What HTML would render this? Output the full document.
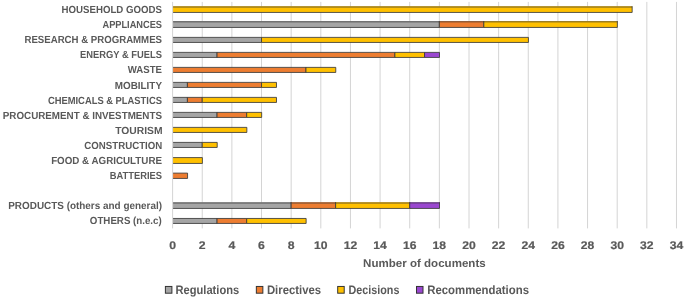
<!DOCTYPE html>
<html><head><meta charset="utf-8"><title>Number of documents</title>
<style>html,body{margin:0;padding:0;background:#fff}svg{display:block}text{font-family:"Liberation Sans",sans-serif;font-weight:bold;text-rendering:geometricPrecision;fill:#595959}</style></head><body>
<svg width="685" height="299" viewBox="0 0 685 299">
<rect width="685" height="299" fill="#fff"/>
<line x1="202.24" y1="1.9" x2="202.24" y2="228.4" stroke="#D4D4D4" stroke-width="1"/>
<line x1="231.88" y1="1.9" x2="231.88" y2="228.4" stroke="#D4D4D4" stroke-width="1"/>
<line x1="261.52" y1="1.9" x2="261.52" y2="228.4" stroke="#D4D4D4" stroke-width="1"/>
<line x1="291.16" y1="1.9" x2="291.16" y2="228.4" stroke="#D4D4D4" stroke-width="1"/>
<line x1="320.80" y1="1.9" x2="320.80" y2="228.4" stroke="#D4D4D4" stroke-width="1"/>
<line x1="350.44" y1="1.9" x2="350.44" y2="228.4" stroke="#D4D4D4" stroke-width="1"/>
<line x1="380.08" y1="1.9" x2="380.08" y2="228.4" stroke="#D4D4D4" stroke-width="1"/>
<line x1="409.72" y1="1.9" x2="409.72" y2="228.4" stroke="#D4D4D4" stroke-width="1"/>
<line x1="439.36" y1="1.9" x2="439.36" y2="228.4" stroke="#D4D4D4" stroke-width="1"/>
<line x1="469.00" y1="1.9" x2="469.00" y2="228.4" stroke="#D4D4D4" stroke-width="1"/>
<line x1="498.64" y1="1.9" x2="498.64" y2="228.4" stroke="#D4D4D4" stroke-width="1"/>
<line x1="528.28" y1="1.9" x2="528.28" y2="228.4" stroke="#D4D4D4" stroke-width="1"/>
<line x1="557.92" y1="1.9" x2="557.92" y2="228.4" stroke="#D4D4D4" stroke-width="1"/>
<line x1="587.56" y1="1.9" x2="587.56" y2="228.4" stroke="#D4D4D4" stroke-width="1"/>
<line x1="617.20" y1="1.9" x2="617.20" y2="228.4" stroke="#D4D4D4" stroke-width="1"/>
<line x1="646.84" y1="1.9" x2="646.84" y2="228.4" stroke="#D4D4D4" stroke-width="1"/>
<line x1="676.48" y1="1.9" x2="676.48" y2="228.4" stroke="#D4D4D4" stroke-width="1"/>
<rect x="172.90" y="6.20" width="459.27" height="6.17" fill="#FFC000"/>
<line x1="172.90" y1="6.90" x2="632.17" y2="6.90" stroke="#3a3a3a" stroke-opacity="0.5" stroke-width="1.5"/>
<path d="M632.17 6.20V12.45H172.90" fill="none" stroke="#3a3a3a" stroke-width="0.85"/>
<text x="61.60" y="13.15" font-size="10.3" textLength="100.40" lengthAdjust="spacingAndGlyphs">HOUSEHOLD GOODS</text>
<rect x="172.90" y="21.05" width="266.46" height="6.45" fill="#A5A5A5"/>
<line x1="172.90" y1="21.75" x2="439.36" y2="21.75" stroke="#3a3a3a" stroke-opacity="0.5" stroke-width="1.5"/>
<path d="M439.36 21.05V27.45H172.90" fill="none" stroke="#3a3a3a" stroke-width="0.85"/>
<rect x="439.36" y="21.05" width="44.46" height="6.45" fill="#ED7D31"/>
<line x1="439.36" y1="21.75" x2="483.82" y2="21.75" stroke="#3a3a3a" stroke-opacity="0.5" stroke-width="1.5"/>
<path d="M483.82 21.05V27.45H439.36V21.05" fill="none" stroke="#3a3a3a" stroke-width="0.85"/>
<rect x="483.82" y="21.05" width="133.53" height="6.45" fill="#FFC000"/>
<line x1="483.82" y1="21.75" x2="617.35" y2="21.75" stroke="#3a3a3a" stroke-opacity="0.5" stroke-width="1.5"/>
<path d="M617.35 21.05V27.45H483.82V21.05" fill="none" stroke="#3a3a3a" stroke-width="0.85"/>
<text x="102.50" y="28.23" font-size="10.3" textLength="59.49" lengthAdjust="spacingAndGlyphs">APPLIANCES</text>
<path d="M172.90 37.38H261.52V42.45H172.90" fill="#A5A5A5" stroke="#3a3a3a" stroke-width="0.85"/>
<path d="M261.52 37.38H528.43V42.45H261.52Z" fill="#FFC000" stroke="#3a3a3a" stroke-width="0.85"/>
<text x="24.45" y="43.31" font-size="10.3" textLength="137.55" lengthAdjust="spacingAndGlyphs">RESEARCH &amp; PROGRAMMES</text>
<path d="M172.90 52.39H217.06V57.45H172.90" fill="#A5A5A5" stroke="#3a3a3a" stroke-width="0.85"/>
<path d="M217.06 52.39H394.90V57.45H217.06Z" fill="#ED7D31" stroke="#3a3a3a" stroke-width="0.85"/>
<path d="M394.90 52.39H424.54V57.45H394.90Z" fill="#FFC000" stroke="#3a3a3a" stroke-width="0.85"/>
<path d="M424.54 52.39H439.51V57.45H424.54Z" fill="#9A47D0" stroke="#3a3a3a" stroke-width="0.85"/>
<text x="80.10" y="58.39" font-size="10.3" textLength="81.89" lengthAdjust="spacingAndGlyphs">ENERGY &amp; FUELS</text>
<path d="M172.90 67.38H305.98V72.45H172.90" fill="#ED7D31" stroke="#3a3a3a" stroke-width="0.85"/>
<path d="M305.98 67.38H335.77V72.45H305.98Z" fill="#FFC000" stroke="#3a3a3a" stroke-width="0.85"/>
<text x="127.75" y="73.47" font-size="10.3" textLength="34.24" lengthAdjust="spacingAndGlyphs">WASTE</text>
<path d="M172.90 82.39H187.42V87.45H172.90" fill="#A5A5A5" stroke="#3a3a3a" stroke-width="0.85"/>
<path d="M187.42 82.39H261.52V87.45H187.42Z" fill="#ED7D31" stroke="#3a3a3a" stroke-width="0.85"/>
<path d="M261.52 82.39H276.49V87.45H261.52Z" fill="#FFC000" stroke="#3a3a3a" stroke-width="0.85"/>
<text x="114.76" y="88.55" font-size="10.3" textLength="47.24" lengthAdjust="spacingAndGlyphs">MOBILITY</text>
<path d="M172.90 97.38H187.42V102.45H172.90" fill="#A5A5A5" stroke="#3a3a3a" stroke-width="0.85"/>
<path d="M187.42 97.38H202.24V102.45H187.42Z" fill="#ED7D31" stroke="#3a3a3a" stroke-width="0.85"/>
<path d="M202.24 97.38H276.49V102.45H202.24Z" fill="#FFC000" stroke="#3a3a3a" stroke-width="0.85"/>
<text x="47.90" y="103.63" font-size="10.3" textLength="114.10" lengthAdjust="spacingAndGlyphs">CHEMICALS &amp; PLASTICS</text>
<path d="M172.90 112.39H217.06V117.45H172.90" fill="#A5A5A5" stroke="#3a3a3a" stroke-width="0.85"/>
<path d="M217.06 112.39H246.70V117.45H217.06Z" fill="#ED7D31" stroke="#3a3a3a" stroke-width="0.85"/>
<path d="M246.70 112.39H261.67V117.45H246.70Z" fill="#FFC000" stroke="#3a3a3a" stroke-width="0.85"/>
<text x="2.80" y="118.71" font-size="10.3" textLength="159.20" lengthAdjust="spacingAndGlyphs">PROCUREMENT &amp; INVESTMENTS</text>
<path d="M172.90 127.38H246.85V132.45H172.90" fill="#FFC000" stroke="#3a3a3a" stroke-width="0.85"/>
<text x="115.25" y="133.79" font-size="10.3" textLength="47.24" lengthAdjust="spacingAndGlyphs">TOURISM</text>
<path d="M172.90 142.40H202.24V147.45H172.90" fill="#A5A5A5" stroke="#3a3a3a" stroke-width="0.85"/>
<path d="M202.24 142.40H217.21V147.45H202.24Z" fill="#FFC000" stroke="#3a3a3a" stroke-width="0.85"/>
<text x="84.35" y="148.87" font-size="10.3" textLength="77.89" lengthAdjust="spacingAndGlyphs">CONSTRUCTION</text>
<path d="M172.90 157.58H202.39V163.45H172.90" fill="#FFC000" stroke="#3a3a3a" stroke-width="0.85"/>
<text x="51.15" y="163.95" font-size="10.3" textLength="110.85" lengthAdjust="spacingAndGlyphs">FOOD &amp; AGRICULTURE</text>
<path d="M172.90 173.12H187.57V178.45H172.90" fill="#ED7D31" stroke="#3a3a3a" stroke-width="0.85"/>
<text x="109.80" y="179.03" font-size="10.3" textLength="52.19" lengthAdjust="spacingAndGlyphs">BATTERIES</text>
<rect x="172.90" y="202.20" width="118.26" height="6.23" fill="#A5A5A5"/>
<line x1="172.90" y1="202.90" x2="291.16" y2="202.90" stroke="#3a3a3a" stroke-opacity="0.5" stroke-width="1.5"/>
<path d="M291.16 202.20V208.45H172.90" fill="none" stroke="#3a3a3a" stroke-width="0.85"/>
<rect x="291.16" y="202.20" width="44.46" height="6.23" fill="#ED7D31"/>
<line x1="291.16" y1="202.90" x2="335.62" y2="202.90" stroke="#3a3a3a" stroke-opacity="0.5" stroke-width="1.5"/>
<path d="M335.62 202.20V208.45H291.16V202.20" fill="none" stroke="#3a3a3a" stroke-width="0.85"/>
<rect x="335.62" y="202.20" width="74.10" height="6.23" fill="#FFC000"/>
<line x1="335.62" y1="202.90" x2="409.72" y2="202.90" stroke="#3a3a3a" stroke-opacity="0.5" stroke-width="1.5"/>
<path d="M409.72 202.20V208.45H335.62V202.20" fill="none" stroke="#3a3a3a" stroke-width="0.85"/>
<rect x="409.72" y="202.20" width="29.79" height="6.23" fill="#9A47D0"/>
<line x1="409.72" y1="202.90" x2="439.51" y2="202.90" stroke="#3a3a3a" stroke-opacity="0.5" stroke-width="1.5"/>
<path d="M439.51 202.20V208.45H409.72V202.20" fill="none" stroke="#3a3a3a" stroke-width="0.85"/>
<text x="8.25" y="208.80" font-size="10.3" textLength="153.70" lengthAdjust="spacingAndGlyphs">PRODUCTS (others and general)</text>
<path d="M172.90 218.46H217.06V223.45H172.90" fill="#A5A5A5" stroke="#3a3a3a" stroke-width="0.85"/>
<path d="M217.06 218.46H246.70V223.45H217.06Z" fill="#ED7D31" stroke="#3a3a3a" stroke-width="0.85"/>
<path d="M246.70 218.46H306.13V223.45H246.70Z" fill="#FFC000" stroke="#3a3a3a" stroke-width="0.85"/>
<text x="89.86" y="224.10" font-size="10.3" textLength="71.84" lengthAdjust="spacingAndGlyphs">OTHERS (n.e.c)</text>
<line x1="172.60" y1="1.9" x2="172.60" y2="228.4" stroke="#D4D4D4" stroke-width="1"/>
<text x="172.60" y="249.0" font-size="11.1" stroke="#595959" stroke-width="0.2" text-anchor="middle" textLength="6.8" lengthAdjust="spacingAndGlyphs">0</text>
<text x="202.24" y="249.0" font-size="11.1" stroke="#595959" stroke-width="0.2" text-anchor="middle" textLength="6.8" lengthAdjust="spacingAndGlyphs">2</text>
<text x="231.88" y="249.0" font-size="11.1" stroke="#595959" stroke-width="0.2" text-anchor="middle" textLength="6.8" lengthAdjust="spacingAndGlyphs">4</text>
<text x="261.52" y="249.0" font-size="11.1" stroke="#595959" stroke-width="0.2" text-anchor="middle" textLength="6.8" lengthAdjust="spacingAndGlyphs">6</text>
<text x="291.16" y="249.0" font-size="11.1" stroke="#595959" stroke-width="0.2" text-anchor="middle" textLength="6.8" lengthAdjust="spacingAndGlyphs">8</text>
<text x="320.80" y="249.0" font-size="11.1" stroke="#595959" stroke-width="0.2" text-anchor="middle" textLength="13.5" lengthAdjust="spacingAndGlyphs">10</text>
<text x="350.44" y="249.0" font-size="11.1" stroke="#595959" stroke-width="0.2" text-anchor="middle" textLength="13.5" lengthAdjust="spacingAndGlyphs">12</text>
<text x="380.08" y="249.0" font-size="11.1" stroke="#595959" stroke-width="0.2" text-anchor="middle" textLength="13.5" lengthAdjust="spacingAndGlyphs">14</text>
<text x="409.72" y="249.0" font-size="11.1" stroke="#595959" stroke-width="0.2" text-anchor="middle" textLength="13.5" lengthAdjust="spacingAndGlyphs">16</text>
<text x="439.36" y="249.0" font-size="11.1" stroke="#595959" stroke-width="0.2" text-anchor="middle" textLength="13.5" lengthAdjust="spacingAndGlyphs">18</text>
<text x="469.00" y="249.0" font-size="11.1" stroke="#595959" stroke-width="0.2" text-anchor="middle" textLength="13.5" lengthAdjust="spacingAndGlyphs">20</text>
<text x="498.64" y="249.0" font-size="11.1" stroke="#595959" stroke-width="0.2" text-anchor="middle" textLength="13.5" lengthAdjust="spacingAndGlyphs">22</text>
<text x="528.28" y="249.0" font-size="11.1" stroke="#595959" stroke-width="0.2" text-anchor="middle" textLength="13.5" lengthAdjust="spacingAndGlyphs">24</text>
<text x="557.92" y="249.0" font-size="11.1" stroke="#595959" stroke-width="0.2" text-anchor="middle" textLength="13.5" lengthAdjust="spacingAndGlyphs">26</text>
<text x="587.56" y="249.0" font-size="11.1" stroke="#595959" stroke-width="0.2" text-anchor="middle" textLength="13.5" lengthAdjust="spacingAndGlyphs">28</text>
<text x="617.20" y="249.0" font-size="11.1" stroke="#595959" stroke-width="0.2" text-anchor="middle" textLength="13.5" lengthAdjust="spacingAndGlyphs">30</text>
<text x="646.84" y="249.0" font-size="11.1" stroke="#595959" stroke-width="0.2" text-anchor="middle" textLength="13.5" lengthAdjust="spacingAndGlyphs">32</text>
<text x="676.48" y="249.0" font-size="11.1" stroke="#595959" stroke-width="0.2" text-anchor="middle" textLength="13.5" lengthAdjust="spacingAndGlyphs">34</text>
<text x="363.1" y="267.1" font-size="11.4" textLength="122.6" lengthAdjust="spacingAndGlyphs">Number of documents</text>
<rect x="165.40" y="286.45" width="6.5" height="6.75" fill="#A5A5A5" stroke="#333" stroke-width="1"/>
<text x="175.55" y="293.5" font-size="12.2" textLength="63.6" lengthAdjust="spacingAndGlyphs">Regulations</text>
<rect x="256.35" y="286.45" width="6.5" height="6.75" fill="#ED7D31" stroke="#333" stroke-width="1"/>
<text x="266.90" y="293.5" font-size="12.2" textLength="54.2" lengthAdjust="spacingAndGlyphs">Directives</text>
<rect x="337.70" y="286.45" width="6.5" height="6.75" fill="#FFC000" stroke="#333" stroke-width="1"/>
<text x="348.50" y="293.5" font-size="12.2" textLength="50.9" lengthAdjust="spacingAndGlyphs">Decisions</text>
<rect x="416.50" y="286.45" width="6.5" height="6.75" fill="#9A47D0" stroke="#333" stroke-width="1"/>
<text x="427.20" y="293.5" font-size="12.2" textLength="101.8" lengthAdjust="spacingAndGlyphs">Recommendations</text>
</svg>
</body></html>
